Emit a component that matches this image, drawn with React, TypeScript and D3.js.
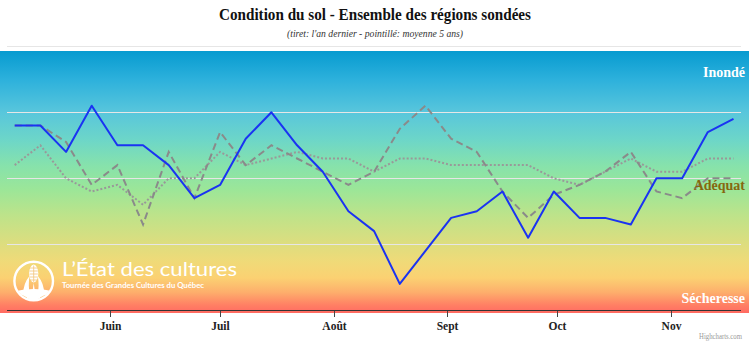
import React from 'react';
import * as d3 from 'd3';

// ---- data ----
const weeks = [
  "2024-05-06", "2024-05-13", "2024-05-20", "2024-05-27",
  "2024-06-03", "2024-06-10", "2024-06-17", "2024-06-24",
  "2024-07-01", "2024-07-08", "2024-07-15", "2024-07-22", "2024-07-29",
  "2024-08-05", "2024-08-12", "2024-08-19", "2024-08-26",
  "2024-09-02", "2024-09-09", "2024-09-16", "2024-09-23", "2024-09-30",
  "2024-10-07", "2024-10-14", "2024-10-21", "2024-10-28",
  "2024-11-04", "2024-11-11", "2024-11-18",
];
const thisYear = [
  3.8, 3.8, 3.4, 4.1, 3.5, 3.5, 3.2, 2.7, 2.9, 3.6, 4.0, 3.5, 3.1,
  2.5, 2.2, 1.4, 1.9, 2.4, 2.5, 2.8, 2.1, 2.8, 2.4, 2.4, 2.3, 3.0, 3.0, 3.7, 3.9,
];
const lastYear = [
  3.8, 3.8, 3.55, 2.9, 3.2, 2.3, 3.4, 2.7, 3.7, 3.2, 3.5, 3.3, 3.1,
  2.9, 3.1, 3.75, 4.1, 3.6, 3.4, 2.8, 2.4, 2.75, 2.9, 3.1, 3.4, 2.8, 2.7, 3.0, 3.0,
];
const avg5 = [
  3.2, 3.5, 3.0, 2.8, 2.9, 2.6, 3.0, 3.0, 3.4, 3.2, 3.3, 3.4, 3.3,
  3.3, 3.1, 3.3, 3.3, 3.2, 3.2, 3.2, 3.2, 3.0, 2.9, 3.1, 3.3, 3.1, 3.1, 3.3, 3.3,
];
const monthTicks = ["2024-06-01", "2024-07-01", "2024-08-01", "2024-09-01", "2024-10-01", "2024-11-01"];
const monthLabels = ["Juin", "Juil", "Août", "Sept", "Oct", "Nov"];
const gridValues = [2, 3, 4, 5];
const zoneLabels = ["Inondé", "Adéquat", "Sécheresse"];
const zoneValues = [4.535, 2.82, 1.11];
const zoneColors = ["#ffffff", "#86670f", "#ffffff"];

const title = "Condition du sol - Ensemble des régions sondées";
const subtitle = "(tiret: l'an dernier - pointillé: moyenne 5 ans)";

const gradStops: [number, string][] = [
  [0, "#079bd0"], [0.11, "#2db1dc"], [0.233, "#58c6dc"], [0.34, "#6dd6c8"],
  [0.435, "#86e2ac"], [0.53, "#9ce698"], [0.626, "#bde38a"], [0.721, "#d9de80"],
  [0.805, "#f0da78"], [0.866, "#fbd172"], [0.92, "#fdaf6c"], [0.969, "#ff8064"], [1, "#ff6a62"],
];

const parse = d3.timeParse("%Y-%m-%d");

export default function App() {
  const W = 750, H = 343;
  const plotL = 7, plotR = 741;
  const dates = weeks.map((d) => parse(d) as Date);
  const x = d3.scaleTime().domain([dates[0], dates[dates.length - 1]]).range([14.7, 733.5]);
  const y = d3.scaleLinear().domain([1, 5]).range([310.3, 46.3]);
  const line = d3.line<number>().x((_, i) => x(dates[i])).y((v) => y(v));
  const serif = "'Liberation Serif', 'Times New Roman', serif";

  return (
    <svg width={W} height={H} style={{ position: 'absolute', left: 0, top: 0, background: '#fff' }}
      fontFamily={serif}>
      <defs>
        <linearGradient id="bg" x1="0" y1="0" x2="0" y2="1">
          {gradStops.map(([o, c], i) => <stop key={i} offset={o} stopColor={c} />)}
        </linearGradient>
        <clipPath id="logoClip"><circle cx={33.7} cy={281} r={18.5} /></clipPath>
      </defs>

      {/* title */}
      <text x={375} y={19.5} textAnchor="middle" fontSize={17} fontWeight="bold" fill="#111"
        textLength={312} lengthAdjust="spacingAndGlyphs">{title}</text>
      <text x={375} y={37} textAnchor="middle" fontSize={10.5} fontStyle="italic" fill="#333"
        textLength={176} lengthAdjust="spacingAndGlyphs">{subtitle}</text>

      {/* background gradient */}
      <rect x={0} y={51} width={749} height={262} fill="url(#bg)" />

      {/* grid */}
      {gridValues.map((g) => (
        <line key={g} x1={plotL} x2={plotR} y1={Math.round(y(g)) + 0.5} y2={Math.round(y(g)) + 0.5}
          stroke="#e6e6e6" strokeWidth={1} />
      ))}

      {/* logo */}
      <g>
        <circle cx={33.7} cy={281} r={19.3} fill="none" stroke="#fff" strokeWidth={2.4} />
        <g clipPath="url(#logoClip)" fill="#fff">
          <path d="M 12 292 Q 33.7 286 56 292 L 56 306 L 12 306 Z" />
          <path d="M 24 302 Q 21 286 29.5 276 Q 27.5 290 31.3 302 Z" />
          <path d="M 43.4 302 Q 46.4 286 37.9 276 Q 39.9 290 36.1 302 Z" />
          <path d="M 31 302 L 33.7 283 L 36.4 302 Z" />
        </g>
        <g clipPath="url(#logoClip)" stroke="#f8c070" strokeWidth={0.9} fill="none" opacity={0.8}>
          <path d="M 12 297 Q 20 293 27 298" />
          <path d="M 55 297 Q 47 293 40 298" />
        </g>
        <ellipse cx={33.7} cy={273.5} rx={4.6} ry={9} fill="#fff" />
        <g stroke="#f3c47a" strokeWidth={0.8}>
          {[268, 271, 274, 277, 280].map((yy) => (
            <line key={yy} x1={29.6} x2={37.8} y1={yy} y2={yy} />
          ))}
          <line x1={33.7} x2={33.7} y1={265.5} y2={282} />
        </g>
        <text x={62} y={276} fontFamily="Lato, 'Open Sans', sans-serif" fontSize={19.5} fill="#fff"
          textLength={175} lengthAdjust="spacingAndGlyphs">L’État des cultures</text>
        <text x={62} y={287.6} fontFamily="Lato, 'Open Sans', sans-serif" fontSize={8.4} fontWeight="bold"
          fill="#fff" textLength={142} lengthAdjust="spacingAndGlyphs">Tournée des Grandes Cultures du Québec</text>
      </g>

      {/* series */}
      <path d={line(avg5) || ''} fill="none" stroke="#999" strokeWidth={2} strokeDasharray="2,2" />
      <path d={line(lastYear) || ''} fill="none" stroke="#8a8a8a" strokeWidth={2} strokeDasharray="7,4" />
      <path d={line(thisYear) || ''} fill="none" stroke="#1a33f2" strokeWidth={2} strokeLinejoin="round" />

      {/* zone labels */}
      {zoneLabels.map((l, i) => (
        <text key={l} x={745} y={y(zoneValues[i])} textAnchor="end" fontSize={14} fontWeight="bold"
          fill={zoneColors[i]}>{l}</text>
      ))}

      {/* x axis */}
      <line x1={plotL} x2={plotR} y1={310.5} y2={310.5} stroke="#333" strokeWidth={1} />
      {monthTicks.map((m, i) => {
        const xx = Math.round(x(parse(m) as Date)) + 0.5;
        return (
          <g key={m}>
            <line x1={xx} x2={xx} y1={311} y2={317} stroke="#444" strokeWidth={1} />
            <text x={xx} y={330} textAnchor="middle" fontSize={11.5} fontWeight="bold" fill="#222">
              {monthLabels[i]}
            </text>
          </g>
        );
      })}

      <text x={742} y={339} textAnchor="end" fontSize={8} fill="#999" textLength={43}
        lengthAdjust="spacingAndGlyphs">Highcharts.com</text>
    </svg>
  );
}
